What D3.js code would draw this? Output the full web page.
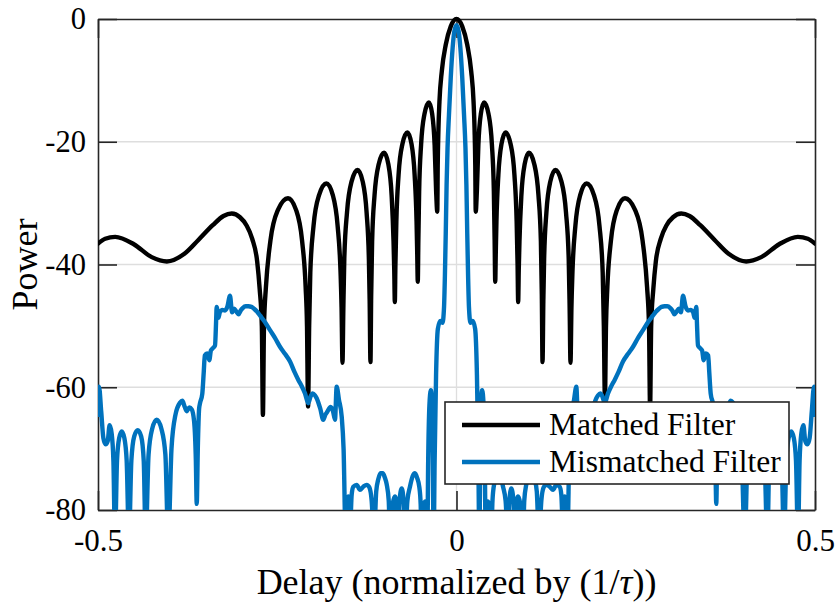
<!DOCTYPE html>
<html>
<head>
<meta charset="utf-8">
<script src="https://cdn.jsdelivr.net/npm/d3@7"></script>
<style>
  body { margin: 0; background: #fff; }
  svg text { font-family: "Liberation Serif", "Times New Roman", serif; fill: #000; }
</style>
</head>
<body>
<svg id="chart" width="837" height="604"></svg>
<script>
// delay (normalized) vs power
var matchedPts = [
  [-0.5,-36.6],[-0.49,-35.8],[-0.476,-35.5],[-0.45,-36.7],[-0.425,-38.8],[-0.404,-39.5],[-0.38,-38.3],[-0.36,-36.0],
  [-0.34,-33.6],[-0.325,-32.1],[-0.3135,-31.7],[-0.302,-32.3],[-0.293,-33.6],[-0.285,-35.8],[-0.278,-39.5],[-0.2745,-44],
  [-0.2715,-50],[-0.270,-64.5],[-0.2685,-50],[-0.2658,-43.7],[-0.2595,-36.1],[-0.249,-31.1],[-0.235,-29.2],[-0.2238,-31.1],
  [-0.2154,-36.1],[-0.2104,-43.7],[-0.2085,-50],[-0.207,-63.1],[-0.2055,-50],[-0.2039,-41.3],[-0.1994,-33.7],[-0.1917,-28.7],
  [-0.1815,-26.8],[-0.1725,-28.7],[-0.1658,-33.7],[-0.1617,-41.3],[-0.1603,-47],[-0.159,-56.0],[-0.1578,-47],[-0.1565,-39.1],
  [-0.1527,-31.5],[-0.1464,-26.5],[-0.138,-24.6],[-0.1308,-26.5],[-0.1254,-31.5],[-0.1222,-39.1],[-0.1211,-46],[-0.12,-55.9],
  [-0.119,-45],[-0.1177,-36.3],[-0.1143,-28.7],[-0.1086,-23.7],[-0.101,-21.8],[-0.095,-23.7],[-0.0905,-28.7],[-0.0878,-36.3],
  [-0.0868,-41],[-0.086,-46.1],[-0.0852,-40],[-0.0839,-33.0],[-0.0808,-25.4],[-0.0755,-20.4],[-0.0685,-18.5],[-0.0627,-20.4],
  [-0.0584,-25.4],[-0.0557,-33.0],[-0.0548,-38],[-0.054,-42.8],[-0.0532,-36],[-0.0521,-28.1],[-0.0494,-20.5],[-0.0447,-15.5],
  [-0.0385,-13.6],[-0.0339,-15.5],[-0.0305,-20.5],[-0.0284,-28.1],[-0.0268,-31.4],[-0.0262,-24],[-0.0252,-18],[-0.0238,-13.5],
  [-0.0205,-8.5],[-0.015,-4.2],[-0.008,-1.2],[0,0],
  [0.008,-1.2],[0.015,-4.2],[0.0205,-8.5],[0.0238,-13.5],[0.0252,-18],[0.0262,-24],[0.0268,-31.4],[0.0284,-28.1],
  [0.0305,-20.5],[0.0339,-15.5],[0.0385,-13.6],[0.0447,-15.5],[0.0494,-20.5],[0.0521,-28.1],[0.0532,-36],[0.054,-42.8],
  [0.0548,-38],[0.0557,-33.0],[0.0584,-25.4],[0.0627,-20.4],[0.0685,-18.5],[0.0755,-20.4],[0.0808,-25.4],[0.0839,-33.0],
  [0.0852,-40],[0.086,-46.1],[0.0868,-41],[0.0878,-36.3],[0.0905,-28.7],[0.095,-23.7],[0.101,-21.8],[0.1086,-23.7],
  [0.1143,-28.7],[0.1177,-36.3],[0.119,-45],[0.12,-55.9],[0.1211,-46],[0.1222,-39.1],[0.1254,-31.5],[0.1308,-26.5],
  [0.138,-24.6],[0.1464,-26.5],[0.1527,-31.5],[0.1565,-39.1],[0.1578,-47],[0.159,-56.0],[0.1603,-47],[0.1617,-41.3],
  [0.1658,-33.7],[0.1725,-28.7],[0.1815,-26.8],[0.1917,-28.7],[0.1994,-33.7],[0.2039,-41.3],[0.2055,-50],[0.207,-62.0],
  [0.2085,-50],[0.2104,-43.7],[0.2154,-36.1],[0.2238,-31.1],[0.235,-29.2],[0.249,-31.1],[0.2595,-36.1],[0.2658,-43.7],
  [0.2685,-50],[0.270,-63.5],[0.2715,-50],[0.2745,-44],[0.278,-39.5],[0.285,-35.8],[0.293,-33.6],[0.302,-32.3],
  [0.3135,-31.7],[0.325,-32.1],[0.34,-33.6],[0.36,-36.0],[0.38,-38.3],[0.404,-39.5],[0.425,-38.8],[0.45,-36.7],
  [0.476,-35.5],[0.49,-35.8],[0.5,-36.6]
];

var mismatchedPts = [
  [-0.5,-64.5],[-0.4986,-59.9],[-0.4955,-64],[-0.4925,-68.3],[-0.4895,-69.3],[-0.4865,-68.8],[-0.4838,-66.2],[-0.481,-67.5],
  [-0.4785,-72],[-0.4763,-85],[-0.4735,-72],[-0.4705,-68.3],[-0.4669,-67.2],[-0.4632,-68.3],[-0.46,-72],[-0.4568,-85],
  [-0.4535,-72],[-0.4495,-68],[-0.4446,-67.0],[-0.4398,-68],[-0.4362,-72],[-0.4335,-85],[-0.4295,-71],[-0.4245,-66.8],
  [-0.4181,-65.3],[-0.4115,-66.8],[-0.406,-71],[-0.402,-85],[-0.3975,-70],[-0.392,-64.5],[-0.3855,-62.5],[-0.3824,-62.2],
  [-0.379,-63.2],[-0.3763,-63.9],[-0.3725,-63.3],[-0.3693,-63.6],[-0.366,-65.5],[-0.3635,-72],[-0.3623,-79],[-0.3608,-70],
  [-0.359,-63.5],[-0.3577,-62.6],[-0.3545,-61.0],[-0.3525,-57.5],[-0.351,-54.8],[-0.3478,-54.5],[-0.3448,-55.6],[-0.3425,-54.0],
  [-0.3395,-53.6],[-0.3368,-53.2],[-0.3352,-49.0],[-0.3345,-46.9],[-0.3322,-48.7],[-0.33,-47.8],[-0.3265,-47.4],[-0.3229,-47.5],
  [-0.3196,-46.9],[-0.3159,-45.1],[-0.313,-47.8],[-0.31,-47.2],[-0.3075,-47.6],[-0.3038,-48.1],[-0.301,-47.5],[-0.2982,-47.1],
  [-0.294,-46.8],[-0.2904,-46.8],[-0.286,-46.9],[-0.2824,-47.2],[-0.278,-47.7],[-0.2741,-48.3],[-0.267,-49.4],[-0.2601,-50.7],
  [-0.253,-52.0],[-0.2462,-53.4],[-0.239,-54.6],[-0.2322,-55.8],[-0.226,-57.5],[-0.2206,-58.8],[-0.216,-59.8],[-0.2113,-61.0],
  [-0.2067,-62.6],[-0.2035,-61.5],[-0.2006,-61.0],[-0.1975,-61.3],[-0.195,-61.8],[-0.19,-63.5],[-0.1858,-65.3],[-0.183,-64.5],
  [-0.1802,-64.0],[-0.1755,-63.2],[-0.172,-64.0],[-0.1695,-65.3],[-0.1671,-59.9],[-0.164,-62],[-0.1601,-64.8],[-0.1575,-70],
  [-0.1545,-85],[-0.1509,-77.8],[-0.149,-85],[-0.1462,-77.5],[-0.1439,-76.2],[-0.1392,-75.9],[-0.1346,-76.7],[-0.13,-76.2],
  [-0.1252,-75.9],[-0.1216,-76.3],[-0.1183,-78.5],[-0.1151,-85],[-0.112,-77],[-0.1091,-75.0],[-0.106,-74.0],[-0.1029,-74.0],
  [-0.1,-74.7],[-0.0974,-75.8],[-0.0945,-78.5],[-0.0927,-85],[-0.089,-79],[-0.0858,-77.8],[-0.084,-79],[-0.0826,-85],
  [-0.0795,-78.5],[-0.0764,-76.5],[-0.0738,-78.5],[-0.0718,-85],[-0.0685,-78.5],[-0.0649,-76.2],[-0.0612,-74.5],[-0.0579,-74.0],
  [-0.0548,-74.8],[-0.0518,-76.3],[-0.05,-79],[-0.0486,-85],[-0.046,-79.5],[-0.0439,-78.6],[-0.0425,-79],[-0.0407,-85],
  [-0.0395,-72],[-0.0378,-63],[-0.0358,-60.5],[-0.0338,-64],[-0.0318,-85],[-0.0305,-72],[-0.0285,-58],[-0.026,-50.5],
  [-0.0225,-49.2],[-0.0195,-49.5],[-0.0174,-47],[-0.0162,-42],[-0.015,-35],[-0.0138,-27],[-0.0125,-21],[-0.0105,-15.6],
  [-0.008,-9.5],[-0.0054,-4.7],[-0.003,-2.0],[0,-1.0],
  [0.003,-2.0],[0.0054,-4.7],[0.008,-9.5],[0.0105,-15.6],[0.0125,-21],[0.0138,-27],[0.015,-35],[0.0162,-42],
  [0.0174,-47],[0.0195,-49.5],[0.0225,-49.2],[0.026,-50.5],[0.0285,-58],[0.0305,-72],[0.0318,-85],[0.0338,-64],
  [0.0358,-60.5],[0.0378,-63],[0.0395,-72],[0.0407,-85],[0.0425,-79],[0.0439,-78.6],[0.046,-79.5],[0.0486,-85],
  [0.05,-79],[0.0518,-76.3],[0.0548,-74.8],[0.0579,-74.0],[0.0612,-74.5],[0.0649,-76.2],[0.0685,-78.5],[0.0718,-85],
  [0.0738,-78.5],[0.0764,-76.5],[0.0795,-78.5],[0.0826,-85],[0.084,-79],[0.0858,-77.8],[0.089,-79],[0.0927,-85],
  [0.0945,-78.5],[0.0974,-75.8],[0.1,-74.7],[0.1029,-74.0],[0.106,-74.0],[0.1091,-75.0],[0.112,-77],[0.1151,-85],
  [0.1183,-78.5],[0.1216,-76.3],[0.1252,-75.9],[0.13,-76.2],[0.1346,-76.7],[0.1392,-75.9],[0.1439,-76.2],[0.1462,-77.5],
  [0.149,-85],[0.1509,-77.8],[0.1545,-85],[0.1575,-70],[0.1601,-64.8],[0.164,-62],[0.1671,-59.9],[0.1695,-65.3],
  [0.172,-64.0],[0.1755,-63.2],[0.1802,-64.0],[0.183,-64.5],[0.1858,-65.3],[0.19,-63.5],[0.195,-61.8],[0.1975,-61.3],
  [0.2006,-61.0],[0.2035,-61.5],[0.2067,-62.6],[0.2113,-61.0],[0.216,-59.8],[0.2206,-58.8],[0.226,-57.5],[0.2322,-55.8],
  [0.239,-54.6],[0.2462,-53.4],[0.253,-52.0],[0.2601,-50.7],[0.267,-49.4],[0.2741,-48.3],[0.278,-47.7],[0.2824,-47.2],
  [0.286,-46.9],[0.2904,-46.8],[0.294,-46.8],[0.2982,-47.1],[0.301,-47.5],[0.3038,-48.1],[0.3075,-47.6],[0.31,-47.2],
  [0.313,-47.8],[0.3159,-45.1],[0.3196,-46.9],[0.3229,-47.5],[0.3265,-47.4],[0.33,-47.8],[0.3322,-48.7],[0.3345,-46.9],
  [0.3352,-49.0],[0.3368,-53.2],[0.3395,-53.6],[0.3425,-54.0],[0.3448,-55.6],[0.3478,-54.5],[0.351,-54.8],[0.3525,-57.5],
  [0.3545,-61.0],[0.3577,-62.6],[0.359,-63.5],[0.3608,-70],[0.3623,-79],[0.3635,-72],[0.366,-65.5],[0.3693,-63.6],
  [0.3725,-63.3],[0.3763,-63.9],[0.379,-63.2],[0.3824,-62.2],[0.3855,-62.5],[0.392,-64.5],[0.3975,-70],[0.402,-85],
  [0.406,-71],[0.4115,-66.8],[0.4181,-65.3],[0.4245,-66.8],[0.4295,-71],[0.4335,-85],[0.4362,-72],[0.4398,-68],
  [0.4446,-67.0],[0.4495,-68],[0.4535,-72],[0.4568,-85],[0.46,-72],[0.4632,-68.3],[0.4669,-67.2],[0.4705,-68.3],
  [0.4735,-72],[0.4763,-85],[0.4785,-72],[0.481,-67.5],[0.4838,-66.2],[0.4865,-68.8],[0.4895,-69.3],[0.4925,-68.3],
  [0.4955,-64],[0.4986,-59.9],[0.5,-64.5]
];

var xTicks = [-0.5, 0, 0.5];
var yTicks = [-80, -60, -40, -20, 0];
var seriesNames = ["Matched Filter", "Mismatched Filter"];
var seriesColors = ["#000000", "#0072BD"];

var svg = d3.select("#chart"),
    margin = {top: 19, right: 22, bottom: 94, left: 98},
    width = +svg.attr("width") - margin.left - margin.right,
    height = +svg.attr("height") - margin.top - margin.bottom;

var x = d3.scaleLinear().domain([-0.5, 0.5]).range([margin.left, margin.left + width]);
var y = d3.scaleLinear().domain([-80, 0]).range([margin.top + height, margin.top]);

var axisColor = "#262626";
var tickLen = 19;

// grid
var grid = svg.append("g").attr("class", "grid");
grid.selectAll("line.h")
    .data(yTicks.slice(1, -1))
    .enter().append("line")
    .attr("x1", x(-0.5)).attr("x2", x(0.5))
    .attr("y1", function(d) { return y(d); })
    .attr("y2", function(d) { return y(d); })
    .attr("stroke", "#dedede").attr("stroke-width", 1.3);
grid.selectAll("line.v")
    .data([0])
    .enter().append("line")
    .attr("x1", function(d) { return x(d); })
    .attr("x2", function(d) { return x(d); })
    .attr("y1", y(-80)).attr("y2", y(0))
    .attr("stroke", "#dedede").attr("stroke-width", 1.3);

// axes, ticks pointing in
function styleAxis(g) {
  g.select(".domain").attr("stroke", axisColor).attr("stroke-width", 1.6);
  g.selectAll(".tick line").attr("stroke", axisColor).attr("stroke-width", 1.6);
  g.selectAll(".tick text").attr("fill", "#000");
}

svg.append("g")
    .attr("transform", "translate(" + x(-0.5) + ",0)")
    .call(d3.axisLeft(y).tickValues(yTicks).tickSizeInner(-tickLen).tickSizeOuter(0).tickPadding(12)
      .tickFormat(function(d) { return String(d); }))
    .call(styleAxis)
    .selectAll(".tick text").attr("font-size", 30.5);

svg.append("g")
    .attr("transform", "translate(" + x(0.5) + ",0)")
    .call(d3.axisRight(y).tickValues(yTicks).tickSizeInner(-tickLen).tickSizeOuter(0).tickFormat(""))
    .call(styleAxis);

svg.append("g")
    .attr("transform", "translate(0," + y(-80) + ")")
    .call(d3.axisBottom(x).tickValues(xTicks).tickSizeInner(-tickLen).tickSizeOuter(0).tickPadding(19)
      .tickFormat(function(d) { return String(d); }))
    .call(styleAxis)
    .selectAll(".tick text").attr("font-size", 31);

svg.append("g")
    .attr("transform", "translate(0," + y(0) + ")")
    .call(d3.axisTop(x).tickValues(xTicks).tickSizeInner(-tickLen).tickSizeOuter(0).tickFormat(""))
    .call(styleAxis);

// curves
svg.append("clipPath").attr("id", "plotclip")
  .append("rect")
    .attr("x", x(-0.5)).attr("y", y(0) - 8)
    .attr("width", width).attr("height", height + 8);

var line = d3.line()
    .x(function(d) { return x(d[0]); })
    .y(function(d) { return y(d[1]); })
    .curve(d3.curveMonotoneX);

var plot = svg.append("g").attr("clip-path", "url(#plotclip)");
[matchedPts, mismatchedPts].forEach(function(pts, i) {
  plot.append("path")
      .datum(pts)
      .attr("fill", "none")
      .attr("stroke", seriesColors[i])
      .attr("stroke-width", 4.4)
      .attr("stroke-linejoin", "round")
      .attr("stroke-linecap", "round")
      .attr("d", line);
});

// labels
var xlab = svg.append("text")
    .attr("x", x(0)).attr("y", 594)
    .attr("text-anchor", "middle")
    .attr("font-size", 36);
xlab.append("tspan").text("Delay (normalized by (1/");
xlab.append("tspan").attr("font-style", "italic").text("\u03C4");
xlab.append("tspan").text("))");

svg.append("text")
    .attr("transform", "translate(37," + y(-40) + ") rotate(-90)")
    .attr("text-anchor", "middle")
    .attr("font-size", 36)
    .text("Power");

// legend
var legend = svg.append("g").attr("transform", "translate(445,402)");
legend.append("rect")
    .attr("width", 344).attr("height", 82)
    .attr("fill", "#fff").attr("stroke", axisColor).attr("stroke-width", 1.6);
seriesNames.forEach(function(name, i) {
  var row = 23 + i * 37;
  legend.append("line")
      .attr("x1", 17).attr("x2", 95)
      .attr("y1", row).attr("y2", row)
      .attr("stroke", seriesColors[i]).attr("stroke-width", 4.4);
  legend.append("text")
      .attr("x", 104).attr("y", row + 10)
      .attr("font-size", 31.5)
      .text(name);
});
</script>
</body>
</html>
